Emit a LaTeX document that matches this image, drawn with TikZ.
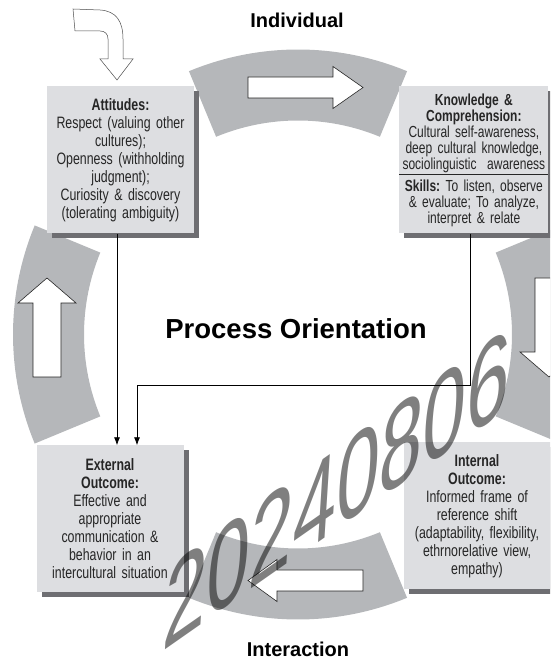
\documentclass[tikz,border=0pt]{standalone}
\usepackage{fontspec}
\setmainfont{Liberation Sans}
\newfontfamily\narrowfont{Liberation Sans}[FakeStretch=0.75]
\usetikzlibrary{positioning,shadows,arrows.meta}

\definecolor{ringgray}{RGB}{181,183,186}
\definecolor{boxgray}{RGB}{221,222,225}
\definecolor{shadowgray}{RGB}{110,110,114}

\tikzset{
  stagebox/.style={fill=boxgray, text width=145pt, minimum width=147pt,
    minimum height=147pt, inner sep=1pt, align=center, text=black!85,
    font=\narrowfont\fontsize{16.5}{18}\selectfont,
    drop shadow={shadow xshift=5pt, shadow yshift=-5pt, fill=shadowgray, opacity=1}},
  ringpart/.style={fill=ringgray},
  blockarrow/.style={draw=black!85, fill=white, line width=0.6pt},
  heading/.style={font=\bfseries\fontsize{20}{20}\selectfont},
}

\begin{document}
\begin{tikzpicture}[x=1pt, y=1pt, >={Latex[length=8pt,width=6pt]}]
\useasboundingbox (0,0) rectangle (550,661);
\clip (0,0) rectangle (550,661);

% four grey pieces of the ring
\foreach \a in {0,90,180,270}
  \fill[ringpart, shift={(298,326.5)}] (\a-22.5:214)
    arc[start angle=\a-22.5, end angle=\a+22.5, radius=214]
    -- (\a+22.5:285)
    arc[start angle=\a+22.5, end angle=\a-22.5, radius=285] -- cycle;

% hollow arrows on the ring
\draw[blockarrow] (248,563) -- (333,563) -- (333,552.5) -- (363,573.5)
  -- (333,594.5) -- (333,584) -- (248,584) -- cycle;
\draw[blockarrow] (33,284) -- (33,358) -- (18,358) -- (47,383)
  -- (76,358) -- (61,358) -- (61,284) -- cycle;
\draw[blockarrow] (535,383) -- (535,309) -- (520,309) -- (549,284)
  -- (578,309) -- (563,309) -- (563,383) -- cycle;
\draw[blockarrow] (363,70) -- (277,70) -- (277,59.5) -- (248,80.5)
  -- (277,101.5) -- (277,91) -- (363,91) -- cycle;

% entry arrow, top left
\draw[blockarrow, draw=black!70, line width=0.5pt] (73,652) -- (100,651)
  .. controls (116,650) and (123,640) .. (123,622) -- (123,602)
  -- (133,602) -- (117,581) -- (100,602) -- (108,602) -- (108,622)
  .. controls (108,627) and (105,630) .. (100,630) -- (75,630) -- cycle;

\node[heading] (indiv) at (297,641) {Individual};
\node[heading] (inter) at (298,12) {Interaction};
\node[font=\bfseries\fontsize{27.5}{27.5}\selectfont] (proc) at (296,332) {Process Orientation};

\node[stagebox] (att) at (120.5,501) {{\bfseries Attitudes:}\\Respect (valuing other\\cultures);\\Openness (withholding\\judgment);\\Curiosity \& discovery\\(tolerating ambiguity)};
\node[stagebox, right=205pt of att, text width=149pt, minimum width=149pt, inner sep=0pt,
  font=\narrowfont\fontsize{16}{16}\selectfont] (know) {{\bfseries Knowledge \&\\Comprehension:}\\Cultural self-awareness,\\deep cultural knowledge,\\sociolinguistic\ \ awareness\\[-10pt]\rule{\linewidth}{0.7pt}\\{\bfseries Skills:}\ To listen, observe\\\& evaluate; To analyze,\\interpret \& relate};
\node[stagebox] (extout) at (110,142) {{\bfseries External\\Outcome:}\\Effective and\\appropriate\\communication \&\\behavior in an\\intercultural situation};
\node[stagebox] (intout) at (477,145) {{\bfseries Internal\\Outcome:}\\Informed frame of\\reference shift\\(adaptability, flexibility,\\ethrnorelative view,\\empathy)};

\draw[->, line width=0.8pt] ([xshift=-3.5pt]att.south) -- ([xshift=-3.5pt]att.south |- extout.north);
\draw[->, line width=0.8pt] ([xshift=-3.5pt]know.south) |- ([xshift=27pt,yshift=60pt]extout.north) -- ([xshift=27pt]extout.north);

\node[rotate=35, xslant=0.8, font=\fontsize{95}{95}\selectfont, text=black, text opacity=0.5, inner sep=0pt] (stamp) at (337,172) {20240806};

\end{tikzpicture}
\end{document}
